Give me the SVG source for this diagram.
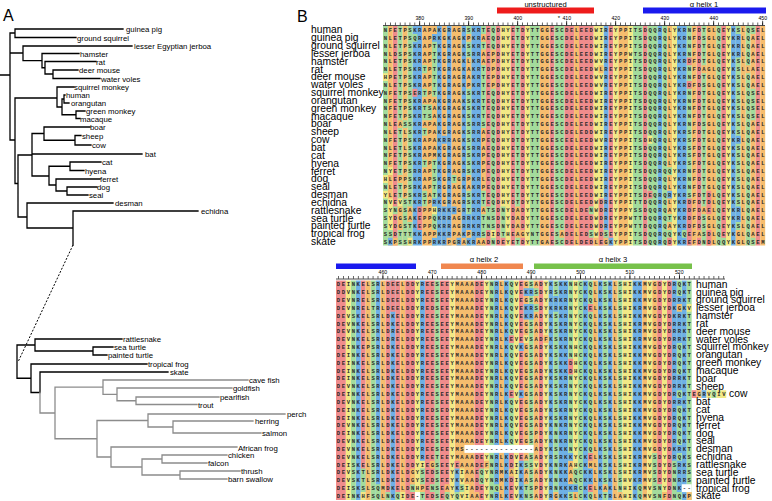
<svg xmlns="http://www.w3.org/2000/svg" width="772" height="501" viewBox="0 0 772 501">
<style>
.t{font-family:"Liberation Sans",Arial,sans-serif;font-size:7.8px;fill:#000}
.n{font-family:"Liberation Sans",Arial,sans-serif;font-size:10.3px;fill:#000}
.h{font-family:"Liberation Sans",Arial,sans-serif;font-size:16px;fill:#000}
.a{font-family:"Liberation Sans",Arial,sans-serif;font-size:7.6px;fill:#000;text-anchor:middle}
.num{font-family:"Liberation Sans",Arial,sans-serif;font-size:5.2px;fill:#000;text-anchor:middle}
.s{font-family:"Liberation Mono",monospace;font-size:5.5px;font-weight:bold;fill:#2a2a2a;letter-spacing:1.6px}
.s2{font-family:"Liberation Mono",monospace;font-size:5.5px;font-weight:bold;fill:#2a2a2a;letter-spacing:1.64px}
.al path{fill:none;stroke-width:1}
.r{stroke:#f08c8c}.b{stroke:#6eb0e6}.g{stroke:#a3dc9c}.o{stroke:#f6bd6e}.y{stroke:#f2e985}
.tk{fill:none;stroke:#000;stroke-width:1.3;stroke-linecap:square}
.tg{fill:none;stroke:#8c8c8c;stroke-width:1.3;stroke-linecap:square}
</style>
<rect width="772" height="501" fill="#fff"/>
<g id="panelA">
<text class="h" x="3" y="21">A</text>
<g id="tree-lines">
<path class="tk" d="M0 75H10M10 33V140M10 33H15M15 29V37.5M15 29H123M15 37.5H76M10 53H23M23 46V60.6M23 46H132M23 60.6H42M42 53.5V67.75M42 53.5H79M42 67.75H45M45 61.5V74M45 61.5H96M45 74H53M53 70V78.5M53 70H78M53 78.5H100M10 140H15M15 98V183.5M15 98H57M57 87V107M57 87H74M57 107H62M62 99V114.75M62 99H64M64 95V103M64 95H65M64 103H69M62 114.75H76M76 111V118.5M76 111H85M76 118.5H80M15 183.5H18M18 155V217M18 155H32M32 133.5V176M32 133.5H44M44 127V140.25M44 127H90M44 140.25H75M75 135.5V145M75 135.5H81M75 145H91M32 154H142M32 176H49M49 166.25V185M49 166.25H70M70 162V170.5M70 162H101M70 170.5H84M49 185H56M56 179V191M56 179H100M56 191H67M67 187V195M67 187H97M67 195H88M18 217H27M27 203V228M27 203H113M27 228H73M73 211V245M73 211H198"/>
<path d="M73 245L18 362" fill="none" stroke="#000" stroke-width="1" stroke-dasharray="2 1.6"/>
<path class="tk" d="M17 345V378.25M17 345H35M35 339V351M35 339H122M35 351H93M93 347V355M93 347H113M93 355H107M17 378.25H31M31 364V392.5M31 364H147M31 392.5H40M40 372V392.5M40 372H168"/>
<path class="tg" d="M40 392.5V413M40 413H55M55 387.2V438.75M55 387.2H103M103 380V394.4M103 380H248M103 394.4H117M117 388V400.75M117 388H232M117 400.75H136M136 397V404.5M136 397H219M136 404.5H197M55 438.75H97M97 420.5V457M97 420.5H148M148 414V427M148 414H285M148 427H173M173 421V433M173 421H253M173 433H261M97 457H111M111 447V467M111 447H237M111 467H142M142 459V475M142 459H162M162 455V463M162 455H227M162 463H207M142 475H180M180 471V479M180 471H240M180 479H227"/>
</g>
<g id="tree-labels" transform="rotate(0.01)">
<text class="t" x="126" y="32">guinea pig</text>
<text class="t" x="77" y="40.5">ground squirrel</text>
<text class="t" x="134" y="49">lesser Egyptian jerboa</text>
<text class="t" x="80" y="56.5">hamster</text>
<text class="t" x="96" y="64.5">rat</text>
<text class="t" x="79" y="73">deer mouse</text>
<text class="t" x="101" y="81.5">water voles</text>
<text class="t" x="74" y="90">squirrel monkey</text>
<text class="t" x="66" y="98">human</text>
<text class="t" x="71" y="106">orangutan</text>
<text class="t" x="86" y="114">green monkey</text>
<text class="t" x="80" y="121.5">macaque</text>
<text class="t" x="90" y="130">boar</text>
<text class="t" x="82" y="138.5">sheep</text>
<text class="t" x="92" y="148">cow</text>
<text class="t" x="145" y="157">bat</text>
<text class="t" x="102" y="165">cat</text>
<text class="t" x="85" y="173.5">hyena</text>
<text class="t" x="100" y="182">ferret</text>
<text class="t" x="97" y="190">dog</text>
<text class="t" x="89" y="198">seal</text>
<text class="t" x="115" y="206">desman</text>
<text class="t" x="201" y="214">echidna</text>
<text class="t" x="123" y="342">rattlesnake</text>
<text class="t" x="114" y="350">sea turtle</text>
<text class="t" x="108" y="358">painted turtle</text>
<text class="t" x="148" y="367">tropical frog</text>
<text class="t" x="170" y="375">skate</text>
<text class="t" x="249" y="383">cave fish</text>
<text class="t" x="233" y="391">goldfish</text>
<text class="t" x="220" y="400">pearlfish</text>
<text class="t" x="198" y="407.5">trout</text>
<text class="t" x="287" y="417">perch</text>
<text class="t" x="255" y="424">herring</text>
<text class="t" x="262" y="436">salmon</text>
<text class="t" x="238" y="451">African frog</text>
<text class="t" x="228" y="458">chicken</text>
<text class="t" x="208" y="466">falcon</text>
<text class="t" x="241" y="474">thrush</text>
<text class="t" x="228" y="482">barn swallow</text>
</g>
</g>
<g id="panelB">
<text class="h" x="297" y="22">B</text>
<g id="annot-top">
<rect x="497" y="7.5" width="97" height="6" fill="#ee1c1c"/>
<rect x="643" y="7.5" width="123" height="6" fill="#1a1aee"/>
<text class="a" x="545.5" y="7">unstructured</text>
<text class="a" x="704" y="7">α helix 1</text>
<text class="a" x="559" y="19.5" style="font-size:6px">*</text>
<path d="M383 25.5H765" stroke="#000" stroke-width=".7"/>
<path d="M385.15 23.9H765" stroke="#000" stroke-width="2.6" stroke-dasharray=".6 4.3"/>
<path d="M419.4 23H765" stroke="#000" stroke-width="4.6" stroke-dasharray=".7 48.3"/>
<text class="num" x="419.75" y="19.5">380</text><text class="num" x="468.75" y="19.5">390</text><text class="num" x="517.75" y="19.5">400</text><text class="num" x="566.75" y="19.5">410</text><text class="num" x="615.75" y="19.5">420</text><text class="num" x="664.75" y="19.5">430</text><text class="num" x="713.75" y="19.5">440</text><text class="num" x="762.75" y="19.5">450</text>
</g>
<g id="align-top" class="al" transform="translate(383 26.1) scale(4.9 7.84)">
<path class="r" d="M2.5 0v28M21.5 0v28M23.5 0v28M26.5 0v28M28.5 0v28M34.5 0v28M37.5 0v28M38.5 0v28M40.5 0v28M41.5 0v28M42.5 0v28M46.5 0v28M53.5 0v28M64.5 0v28M69.5 0v28M76.5 0v28"/>
<path class="b" d="M6.5 0v28M7.5 0v28M11.5 0v28M13.5 0v28M16.5 0v28M18.5 0v28M19.5 0v28M45.5 0v28M56.5 0v28M60.5 0v28M61.5 0v28M71.5 0v28"/>
<path class="g" d="M0.5 0v28M3.5 0v28M5.5 0v28M10.5 0v28M17.5 0v28M20.5 0v28M22.5 0v28M27.5 0v28M30.5 0v28M31.5 0v28M35.5 0v28M36.5 0v28M51.5 0v28M52.5 0v28M54.5 0v28M55.5 0v28M57.5 0v28M62.5 0v28M65.5 0v28M68.5 0v28M72.5 0v28M74.5 0v28"/>
<path class="o" d="M1.5 0v28M4.5 0v28M8.5 0v28M9.5 0v28M12.5 0v28M14.5 0v28M15.5 0v28M32.5 0v28M33.5 0v28M39.5 0v28M48.5 0v28M49.5 0v28M58.5 0v28M63.5 0v28M66.5 0v28M67.5 0v28M73.5 0v28M75.5 0v28M77.5 0v28"/>
<path class="y" d="M24.5 0v28M25.5 0v28M29.5 0v28M43.5 0v28M44.5 0v28M47.5 0v28M50.5 0v28M59.5 0v28M70.5 0v28"/>
<path class="y" d="M0.5 0v28" stroke-dasharray="0 6 1 12 1 1 1 30"/>
<path class="y" d="M1.5 0v28" stroke-dasharray="0 18 1 3 4 30"/>
<path class="y" d="M3.5 0v28" stroke-dasharray="0 22 1 30"/>
<path class="y" d="M5.5 0v28" stroke-dasharray="0 27 1 30"/>
<path class="y" d="M10.5 0v28" stroke-dasharray="0 23 1 30"/>
<path class="y" d="M22.5 0v28" stroke-dasharray="0 26 1 30"/>
<path class="y" d="M54.5 0v28" stroke-dasharray="0 14 1 30"/>
<path class="g" d="M1.5 0v28M45.5 0v28M61.5 0v28" stroke-dasharray="0 26 1 30"/>
<path class="g" d="M2.5 0v28" stroke-dasharray="0 23 1 30"/>
<path class="g" d="M4.5 0v28" stroke-dasharray="0 12 1 9 6 30"/>
<path class="g" d="M6.5 0v28" stroke-dasharray="0 1 1 30"/>
<path class="g" d="M8.5 0v28" stroke-dasharray="0 5 1 2 1 1 2 1 1 3 1 3 2 30"/>
<path class="g" d="M9.5 0v28" stroke-dasharray="0 10 2 30"/>
<path class="g" d="M14.5 0v28" stroke-dasharray="0 19 1 30"/>
<path class="g" d="M21.5 0v28" stroke-dasharray="0 23 3 30"/>
<path class="g" d="M24.5 0v28" stroke-dasharray="0 23 4 30"/>
<path class="g" d="M42.5 0v28" stroke-dasharray="0 23 1 2 1 30"/>
<path class="g" d="M58.5 0v28" stroke-dasharray="0 18 1 5 1 1 1 30"/>
<path class="g" d="M69.5 0v28" stroke-dasharray="0 27 1 30"/>
<path class="g" d="M75.5 0v28" stroke-dasharray="1 7 4 15 1 30"/>
<path class="b" d="M1.5 0v28M15.5 0v28M46.5 0v28" stroke-dasharray="0 27 1 30"/>
<path class="b" d="M10.5 0v28" stroke-dasharray="0 1 1 20 1 4 1 30"/>
<path class="b" d="M12.5 0v28" stroke-dasharray="0 14 1 8 5 30"/>
<path class="b" d="M14.5 0v28" stroke-dasharray="0 23 1 30"/>
<path class="b" d="M17.5 0v28" stroke-dasharray="0 24 2 1 1 30"/>
<path class="b" d="M58.5 0v28" stroke-dasharray="0 21 1 30"/>
<path class="b" d="M72.5 0v28" stroke-dasharray="0 1 3 10 1 8 2 30"/>
<path class="o" d="M2.5 0v28M13.5 0v28M16.5 0v28M19.5 0v28M43.5 0v28M45.5 0v28" stroke-dasharray="0 27 1 30"/>
<path class="o" d="M3.5 0v28" stroke-dasharray="0 12 1 6 1 3 3 30"/>
<path class="o" d="M5.5 0v28" stroke-dasharray="0 23 2 30"/>
<path class="o" d="M10.5 0v28" stroke-dasharray="1 8 8 9 1 30"/>
<path class="o" d="M17.5 0v28" stroke-dasharray="0 1 1 2 4 11 2 5 1 30"/>
<path class="o" d="M20.5 0v28" stroke-dasharray="0 1 1 1 2 8 8 2 1 3 1 30"/>
<path class="o" d="M22.5 0v28" stroke-dasharray="0 3 5 30"/>
<path class="o" d="M27.5 0v28" stroke-dasharray="0 23 4 30"/>
<path class="o" d="M28.5 0v28M36.5 0v28M64.5 0v28" stroke-dasharray="0 26 1 30"/>
<path class="o" d="M44.5 0v28M74.5 0v28" stroke-dasharray="0 5 1 30"/>
<path class="o" d="M65.5 0v28" stroke-dasharray="0 5 1 17 1 30"/>
<path class="o" d="M72.5 0v28" stroke-dasharray="0 26 2 30"/>
<path class="r" d="M6.5 0v28" stroke-dasharray="0 8 1 30"/>
<path class="r" d="M7.5 0v28" stroke-dasharray="0 23 3 30"/>
<path class="r" d="M24.5 0v28M58.5 0v28" stroke-dasharray="0 27 1 30"/>
<path class="r" d="M44.5 0v28" stroke-dasharray="0 22 6 30"/>
<path class="r" d="M54.5 0v28" stroke-dasharray="0 21 1 30"/>
<path class="r" d="M62.5 0v28" stroke-dasharray="0 4 1 2 1 14 6 30"/>
<path class="r" d="M66.5 0v28" stroke-dasharray="0 21 3 2 2 30"/>
</g>
<text id="seq-top" class="s" x="383.8" y="32"><tspan x="383.8">NFETPSKRAPAKGRAGRSKRTEQDHYETDYTTGGESCDELEEDWIREYPPITSDQQRQLYKRNFDTGLQEYKSLQSEL</tspan><tspan x="383.8" dy="7.84">NLETPSQRAPRKGKAGKPKRAEQDHYETDYTTGGESCDELEEDWIREYPPITSDQQRQLYKRNFDSGLQEYKRLQAEL</tspan><tspan x="383.8" dy="7.84">NLETPSKRAPTKGRAGKSKRTEQDHYETDYTTGGESCDELEEDWIREYPPITSDQQRQLYKRNFDTGLQEYKRLQAEL</tspan><tspan x="383.8" dy="7.84">NLDSPSKRAPTKGRAGKSRRAEPDHYETDYTTGGESCDELEEDWIREYPPWTSDQQRQLYKRNFDTGLQEYKRLQAEL</tspan><tspan x="383.8" dy="7.84">NLETPSKRAPTKGRAGKLKRAEPDHYETDYTTGGESCDELEEDWVREYPPITSDQQRQLYKRDFDTGLQEYKSLQAEL</tspan><tspan x="383.8" dy="7.84">NLETPSKRTPTKGRAGKAKRTDPDHYETDYTTGGESCDELEEDWLREYPPITSDQQRQLYKRNFDAGLQEYKSLLAEL</tspan><tspan x="383.8" dy="7.84">HPETPSKRAPTKGRAGRAKRTEPDHYETDYTTGGESCDELEEDWVREYPPITSDQQRQLYKRNFDTGLQEYKSLQAEL</tspan><tspan x="383.8" dy="7.84">NLETPSKRAPTKGRAGKPKRTEPDHYETDYTTGGESCDELEEDWVREYPPITSDQQRQLYKRDFDSGLQEYKSLQAEL</tspan><tspan x="383.8" dy="7.84">NFETPSERTPTKGRAGKSKRTEQDHYETDYTTGGESCDELEEDWIREYPPITSDQQRQLYKRNFDTGLQEYKSLQSEL</tspan><tspan x="383.8" dy="7.84">NFETPSKRAPAKGRAAKSKRTEQDHYETDYTTGGESCDELEEDWIREYPPITSDQQRQLYKRNFDTGLQEYKSLQSEL</tspan><tspan x="383.8" dy="7.84">NFETPSKRTSAKGRAGKSKRTEQDHYETDYTTGGESCDELEEDWIREYPPITSDQQRQLYKRNFDTGLQEYKSLQSEL</tspan><tspan x="383.8" dy="7.84">NFETPSKRTSAKGRAGKSKRTEQDHYETDYTTGGESCDELEEDWIREYPPITSDQQRQLYKRNFDTGLQEYKSLQSEL</tspan><tspan x="383.8" dy="7.84">NLEASSKRAPAKGRAGKSRRSEQDHYETDYTTGGESCDELEEDWIREYPPITSDQQRQLYKRNFDSGLQEYKSLQAEL</tspan><tspan x="383.8" dy="7.84">NLETLSKRTPAKGRAGKSRRAEQDHYETDYTTGGESCDELEDDWIREYPPITSDQQRQLYKRSFDTGLQEYKSLQAEL</tspan><tspan x="383.8" dy="7.84">NFETPSKRAPAKRRAGKSKRPEQDHYDTDYTTGGESCEELEEDWVREYPPITSDHQRQLYKRSFDTGLQEYKRLQAEL</tspan><tspan x="383.8" dy="7.84">NLETLSKRAPAKGRAGKSRRAEQDHYETDYTTGGESCDELEEDWIREYPPITSDQQRQLYKRSFDTGLQEYKSLQAEL</tspan><tspan x="383.8" dy="7.84">NFETPSKRAPMKGRAGRSKRPEQDHYETDYTTGGESCDELEEDWIREYPPITSDQQRQLYKRSFDTGLQEYKSLQAEL</tspan><tspan x="383.8" dy="7.84">NFETPSKRTPTKGRAGKSKRPEQDHYETDYTTGGESCDELEEDWIREYPPITSDQQRQLYKRSFDTGLQEYKSLQAEL</tspan><tspan x="383.8" dy="7.84">NYETPSRRAPTKGRAGRSKRPEQDHYETDYTTGGESCDELEEDWIREYPPITSDQQRQQYKRNFDTGLQEYKSLQAEL</tspan><tspan x="383.8" dy="7.84">HLEPPSKRAPSKGRTGRPKRLEQDHYETDYTTGGESCDELEEDWIREYPPITSDQQRQLYKRNFDTGLQEYKSLQAEL</tspan><tspan x="383.8" dy="7.84">NLETPSRKAPTRGRAGKAKRPEQDHYETDYTTGGESCDELEEDWIREYPPITSDQQRQLYKRNFDTGLQEYKSLQAEL</tspan><tspan x="383.8" dy="7.84">YLETPSKRSATKGRAGRSKRTEQDHYETDYTTGGESCDELEEDWIREYPPITSDEQRQRYKRSFDTDLQEYKSLQAEL</tspan><tspan x="383.8" dy="7.84">NVEVSTKRTPRKGRAGRSKRTEQDHYDTDYTTGGESCDELEEDWDREYPPITTDQQRQLYKRDFDTDLQEYKSLQAEL</tspan><tspan x="383.8" dy="7.84">SYNGSAKDPPHRKKRGRTRRATSDNYDADYTTGGESCDELDENWDREYPPYSSDQQRQAYKRDFDAELQEYKRLQAEL</tspan><tspan x="383.8" dy="7.84">SYDGSAKEPPQKRRAGRRKRTNSDNYDADYTTGGESCDELEEDWDREYPPWTTDQQRQTYKRDFDSGLQEYKRLQAEL</tspan><tspan x="383.8" dy="7.84">SYDGSTKEPPQKRRAGRRKRTNSDNYDADYTTGGESCDELEEDWDREYPPWTTDQQRQAYKRDFDSGLQEYKSLQAEL</tspan><tspan x="383.8" dy="7.84">SSDTTTKKAPPKKRPAKPRRSDIDTHEAGYNTGGESADELEDSWDSEYPPITSDQQRQQYKQEFASDLQEYKGLQAEL</tspan><tspan x="383.8" dy="7.84">SKPSSHRKPPRKRPGRAKRAADNDEYETDYTTGAESCDELDEDLEGKYPPITSDQQRQDYKREFDNDLQQYKGLQSEM</tspan></text>
<text id="names-top" class="n" x="311" y="33.4"><tspan x="311">human</tspan><tspan x="311" dy="7.84">guinea pig</tspan><tspan x="311" dy="7.84">ground squirrel</tspan><tspan x="311" dy="7.84">lesser jerboa</tspan><tspan x="311" dy="7.84">hamster</tspan><tspan x="311" dy="7.84">rat</tspan><tspan x="311" dy="7.84">deer mouse</tspan><tspan x="311" dy="7.84">water voles</tspan><tspan x="311" dy="7.84">squirrel monkey</tspan><tspan x="311" dy="7.84">orangutan</tspan><tspan x="311" dy="7.84">green monkey</tspan><tspan x="311" dy="7.84">macaque</tspan><tspan x="311" dy="7.84">boar</tspan><tspan x="311" dy="7.84">sheep</tspan><tspan x="311" dy="7.84">cow</tspan><tspan x="311" dy="7.84">bat</tspan><tspan x="311" dy="7.84">cat</tspan><tspan x="311" dy="7.84">hyena</tspan><tspan x="311" dy="7.84">ferret</tspan><tspan x="311" dy="7.84">dog</tspan><tspan x="311" dy="7.84">seal</tspan><tspan x="311" dy="7.84">desman</tspan><tspan x="311" dy="7.84">echidna</tspan><tspan x="311" dy="7.84">rattlesnake</tspan><tspan x="311" dy="7.84">sea turtle</tspan><tspan x="311" dy="7.84">painted turtle</tspan><tspan x="311" dy="7.84">tropical frog</tspan><tspan x="311" dy="7.84">skate</tspan></text>
<g id="annot-bottom">
<rect x="336" y="263.5" width="80" height="5.5" fill="#1a1aee"/>
<rect x="441" y="263.5" width="82" height="5.5" fill="#f0874f"/>
<rect x="534" y="263.5" width="158" height="5.5" fill="#77c14a"/>
<text class="a" x="484" y="261.5">α helix 2</text>
<text class="a" x="613" y="261.5">α helix 3</text>
<path d="M336 279H725" stroke="#000" stroke-width=".7"/>
<path d="M338.17 277.4H725" stroke="#000" stroke-width="2.6" stroke-dasharray=".6 4.34"/>
<path d="M382.58 276.5H692" stroke="#000" stroke-width="4.6" stroke-dasharray=".7 48.7"/>
<text class="num" x="382.9" y="274">460</text><text class="num" x="432.3" y="274">470</text><text class="num" x="481.7" y="274">480</text><text class="num" x="531.1" y="274">490</text><text class="num" x="580.5" y="274">500</text><text class="num" x="629.9" y="274">510</text><text class="num" x="679.3" y="274">520</text>
</g>
<g id="align-bottom" class="al" transform="translate(336 280.4) scale(4.94 7.84)">
<path class="r" d="M0.5 0v28M1.5 0v28M5.5 0v28M10.5 0v28M12.5 0v28M14.5 0v28M15.5 0v28M18.5 0v28M19.5 0v28M21.5 0v28M22.5 0v28M28.5 0v28M29.5 0v28M37.5 0v28M41.5 0v28M65.5 0v28M67.5 0v28"/>
<path class="b" d="M4.5 0v28M8.5 0v28M11.5 0v28M17.5 0v28M32.5 0v28M34.5 0v28M43.5 0v28M45.5 0v28M46.5 0v28M50.5 0v28M53.5 0v28M55.5 0v28M60.5 0v28M61.5 0v28M68.5 0v28M70.5 0v28"/>
<path class="g" d="M3.5 0v28M7.5 0v28M20.5 0v28M31.5 0v28M35.5 0v28M39.5 0v28M44.5 0v28M47.5 0v28M49.5 0v28M51.5 0v28M54.5 0v28M57.5 0v28M69.5 0v28M71.5 0v28"/>
<path class="o" d="M6.5 0v28M9.5 0v28M13.5 0v28M24.5 0v28M25.5 0v28M26.5 0v28M27.5 0v28M33.5 0v28M38.5 0v28M40.5 0v28M52.5 0v28M56.5 0v28M62.5 0v28M64.5 0v28"/>
<path class="y" d="M2.5 0v28M16.5 0v28M23.5 0v28M30.5 0v28M36.5 0v28M42.5 0v28M48.5 0v28M58.5 0v28M59.5 0v28M63.5 0v28M66.5 0v28"/>
<path class="g" d="M10.5 0v28M12.5 0v28M22.5 0v28M24.5 0v28" stroke-dasharray="0 27 1 30"/>
<path class="g" d="M15.5 0v28M19.5 0v28M25.5 0v28M32.5 0v28" stroke-dasharray="0 26 1 30"/>
<path class="g" d="M5.5 0v28" stroke-dasharray="0 24 3 30"/>
<path class="g" d="M8.5 0v28M61.5 0v28M65.5 0v28" stroke-dasharray="0 26 2 30"/>
<path class="g" d="M17.5 0v28" stroke-dasharray="0 24 2 1 1 30"/>
<path class="g" d="M29.5 0v28M48.5 0v28" stroke-dasharray="0 24 2 30"/>
<path class="g" d="M38.5 0v28" stroke-dasharray="0 23 1 2 2 30"/>
<path class="g" d="M40.5 0v28" stroke-dasharray="0 1 1 1 1 30"/>
<path class="g" d="M64.5 0v28" stroke-dasharray="0 22 6 30"/>
<path class="g" d="M68.5 0v28" stroke-dasharray="0 23 5 30"/>
<path class="y" d="M5.5 0v28M13.5 0v28" stroke-dasharray="0 27 1 30"/>
<path class="y" d="M17.5 0v28M40.5 0v28" stroke-dasharray="0 23 1 30"/>
<path class="y" d="M25.5 0v28" stroke-dasharray="0 24 2 1 1 30"/>
<path class="y" d="M26.5 0v28" stroke-dasharray="0 26 2 30"/>
<path class="y" d="M38.5 0v28" stroke-dasharray="0 7 1 30"/>
<path class="y" d="M71.5 0v28" stroke-dasharray="0 3 1 30"/>
<path class="o" d="M28.5 0v28M44.5 0v28M48.5 0v28M57.5 0v28M66.5 0v28M71.5 0v28" stroke-dasharray="0 27 1 30"/>
<path class="o" d="M17.5 0v28M22.5 0v28M54.5 0v28" stroke-dasharray="0 26 1 30"/>
<path class="o" d="M19.5 0v28M30.5 0v28M51.5 0v28" stroke-dasharray="0 23 1 30"/>
<path class="o" d="M15.5 0v28" stroke-dasharray="0 24 2 30"/>
<path class="o" d="M35.5 0v28" stroke-dasharray="0 24 1 30"/>
<path class="o" d="M42.5 0v28" stroke-dasharray="0 7 1 30"/>
<path class="o" d="M47.5 0v28" stroke-dasharray="0 23 3 30"/>
<path class="o" d="M69.5 0v28" stroke-dasharray="0 3 1 30"/>
<path class="r" d="M11.5 0v28" stroke-dasharray="4 30"/>
<path class="r" d="M24.5 0v28" stroke-dasharray="0 23 1 30"/>
<path class="r" d="M35.5 0v28" stroke-dasharray="0 7 1 6 1 7 2 1 3 30"/>
<path class="r" d="M47.5 0v28" stroke-dasharray="0 10 2 30"/>
<path class="r" d="M51.5 0v28" stroke-dasharray="0 3 1 18 1 3 1 30"/>
<path class="b" d="M48.5 0v28" stroke-dasharray="0 26 1 30"/>
<path class="b" d="M24.5 0v28" stroke-dasharray="0 24 3 30"/>
<path class="b" d="M37.5 0v28" stroke-dasharray="0 8 1 5 1 8 5 30"/>
<path class="b" d="M38.5 0v28M39.5 0v28" stroke-dasharray="0 1 1 1 2 30"/>
<path class="b" d="M44.5 0v28" stroke-dasharray="0 2 2 30"/>
<path class="b" d="M47.5 0v28" stroke-dasharray="0 22 1 3 1 30"/>
<path class="b" d="M51.5 0v28" stroke-dasharray="0 24 2 30"/>
<path class="b" d="M69.5 0v28" stroke-dasharray="0 2 1 1 4 4 2 1 1 5 1 1 4 30"/>
<path class="r" d="M72.5 14v1"/><path class="o" d="M73.5 14v1"/><path class="b" d="M74.5 14v1"/><path class="y" d="M75.5 14v1M77.5 14v1M78.5 14v1"/><path class="g" d="M76.5 14v1"/>
<rect x="26" y="21" width="14" height="1" fill="#fff"/>
<rect x="16" y="27" width="1" height="1" fill="#fff"/>
<rect x="70" y="26" width="2" height="1" fill="#fff"/>
</g>
<text id="seq-bottom" class="s2" x="336.82" y="286.3"><tspan x="336.82">DEINKELSRLDEELDDYREESEEYMAAADEYNRLKQVEGSADYKSKKNHCKQLKSKLSHIKKMVGDYDRQKT</tspan><tspan x="336.82" dy="7.84">DDVNKELSRLDEELDDYREESEEYMAAADEYNRLKQVEKRSDYRSKRNYCKQLKSKLSHIKKMVGDYDRQKT</tspan><tspan x="336.82" dy="7.84">DEVNRELSRLDEELDDYREESEEYMAAADEYNRLKQVEGSADYKRKRNYCKQLKSKLSHIKKMVGDYDRRKT</tspan><tspan x="336.82" dy="7.84">DEVNRELTRLDEELDDYREDSEEYMAAADEYNRLKQVEKRSDYKRKRNYCKELKSKLSHIKRMVGDYDKGKV</tspan><tspan x="336.82" dy="7.84">DEVSKELSRLDKELDDYREESEEYMAAADEYNRLKQVEKRADYKSKRNYCKQLKSKLSHIKKMVGDYDKRKT</tspan><tspan x="336.82" dy="7.84">DEVNKELSRLDKELDDYREESEEYMAAADEYNRLKQVEGSADYKSKRNYCKQLKSKLSHIKRMVGDYDRRKT</tspan><tspan x="336.82" dy="7.84">DEVNKELSRLDRELDDYREESEEYMAAADEYNRLKQVEGSADYKSKRNYCKQLKSKLSHIKRMVGDYDRRKT</tspan><tspan x="336.82" dy="7.84">DEVNKELSRLDRELDDYREESEEYMAAADEYNRLKEVEVSADFKSKRNYCKQLKSKLSHIKRMVGDYDRRKT</tspan><tspan x="336.82" dy="7.84">DEINKEPSRLDKELDDYREESEEYMAAADEYNRLKQVKGSADYKSKKNHCKQLKSKLSHIKKMVGDYDRQKT</tspan><tspan x="336.82" dy="7.84">DEINKELSRLDKELDDYREESEEYMAAADEYNRLKQVEGSADYKSKKNHCKQLKSKLSHIKKMVGDYDRQKT</tspan><tspan x="336.82" dy="7.84">DEINKELSRLDKELDDYREESEEYMAAADEYNRLKQVEGSADYKSKKDHCKQLKSKLSHIKKMVGDYDRQKT</tspan><tspan x="336.82" dy="7.84">DEINKELSRLDKELDDYREESEEYMAAADEYNRLKQVEGSADYKSKKDHCKQLKSKLSHIKKMVGDYDRQKT</tspan><tspan x="336.82" dy="7.84">DEINKELSRLDKELDDYREESEEYMAAADEYNRLKQVEGSADYKSKRNYCKQLKSKLSHIKKMVGDYDRRKT</tspan><tspan x="336.82" dy="7.84">DEVNKELSRLDKELDDYREESEEYMAAADEYNRLKQVEGSADYKSKRNYCKQLKSKLSHIKKMVGDYDRRKT</tspan><tspan x="336.82" dy="7.84">DEINKELSRLDKELDDYREESEEYMAAADEYNRLKEVKGSADYKSKRNYCKQLKSKLSHIKKMVGDYDRQKTEGRVQIV</tspan><tspan x="336.82" dy="7.84">DEVNKELSRLDKELDDYREESEEYMAAADEYNRLKQVEGSADYKSKRNYCKQLKSKLSHIKKMVGDYDRRKT</tspan><tspan x="336.82" dy="7.84">DEINKELSRLDKELDDYREDSEDYMAAADEYNRLKQVEGSADYKSKRNYCKQLKSKLSHIKKMVGDYDRQKT</tspan><tspan x="336.82" dy="7.84">DEINKELSRLDKELDDYREESEEYMAAADEYNRLKQVEGSADYKSKRNYCKQLKSKLSHIKKMVGDYDRQKT</tspan><tspan x="336.82" dy="7.84">DEVNKELSRLDKELDDYREESEEYMAAADEYNRLKQVEGSADYKNKRNYCKQLKSKLSHIKKMVGDYDRQKT</tspan><tspan x="336.82" dy="7.84">DEINKELSRLDKELDDYREESEEYMAAADEYNRLKQVEGSPDYKNKRNYCKQLKSKLSHIKKMVGDYDRQKT</tspan><tspan x="336.82" dy="7.84">DEVNKELSRLDKELDDYREESEEYMAAADEYNRLKQVEGSADYKNKRNYCKQLKSKLSHIKKMVGDYDRQKT</tspan><tspan x="336.82" dy="7.84">DEVNKELSRLDKELDDYREESEEYMS--------------ADYKSKKNYCKQLKSKLSHIKKMVGDYDKRKT</tspan><tspan x="336.82" dy="7.84">DEVNKELSRLDKELDDYREETEEYMAAADEYNRLKDVEASADYRSRKKYCKELKSKLSHIKRMVSDYDRQKS</tspan><tspan x="336.82" dy="7.84">DEISKELSRLDKELDDYIEGSEEYEAAADEFNRLKDIKSSVDYKNRKAHCKMLKSKLSHIKRMVSDYDSRKS</tspan><tspan x="336.82" dy="7.84">DEVSKTLSRLDKELDGYSEDSEEYKIAAEQYNRMKAIKASADYKNKKAQCKKLKSKLSHIKRMVSDYDNRRS</tspan><tspan x="336.82" dy="7.84">DEVSKTLSRLDKELDGYSEDSEEYKVAADQYNRMKDIKASADYKNKKAQCKKLKSKLSHVKRMVSDYDNRRS</tspan><tspan x="336.82" dy="7.84">DEISKSLSQMDKELDNHPENSEAYKSIADEYNQLKEVKTSPDYRNKKKRCKELKAKLNHIKQMVSNYDNK--</tspan><tspan x="336.82" dy="7.84">DEINKHFSQLNKQIDE-TEDSEQYQVIAAEYNRLKEVKNSADYRGKKSLCKQLKTRLAHIKQMVSNFDNQKP</tspan></text>
<text id="names-bottom" class="n" x="696" y="287.7"><tspan x="696">human</tspan><tspan x="696" dy="7.84">guinea pig</tspan><tspan x="696" dy="7.84">ground squirrel</tspan><tspan x="696" dy="7.84">lesser jerboa</tspan><tspan x="696" dy="7.84">hamster</tspan><tspan x="696" dy="7.84">rat</tspan><tspan x="696" dy="7.84">deer mouse</tspan><tspan x="696" dy="7.84">water voles</tspan><tspan x="696" dy="7.84">squirrel monkey</tspan><tspan x="696" dy="7.84">orangutan</tspan><tspan x="696" dy="7.84">green monkey</tspan><tspan x="696" dy="7.84">macaque</tspan><tspan x="696" dy="7.84">boar</tspan><tspan x="696" dy="7.84">sheep</tspan><tspan x="729" dy="7.84">cow</tspan><tspan x="696" dy="7.84">bat</tspan><tspan x="696" dy="7.84">cat</tspan><tspan x="696" dy="7.84">hyena</tspan><tspan x="696" dy="7.84">ferret</tspan><tspan x="696" dy="7.84">dog</tspan><tspan x="696" dy="7.84">seal</tspan><tspan x="696" dy="7.84">desman</tspan><tspan x="696" dy="7.84">echidna</tspan><tspan x="696" dy="7.84">rattlesnake</tspan><tspan x="696" dy="7.84">sea turtle</tspan><tspan x="696" dy="7.84">painted turtle</tspan><tspan x="696" dy="7.84">tropical frog</tspan><tspan x="696" dy="7.84">skate</tspan></text>
</g>
</svg>
